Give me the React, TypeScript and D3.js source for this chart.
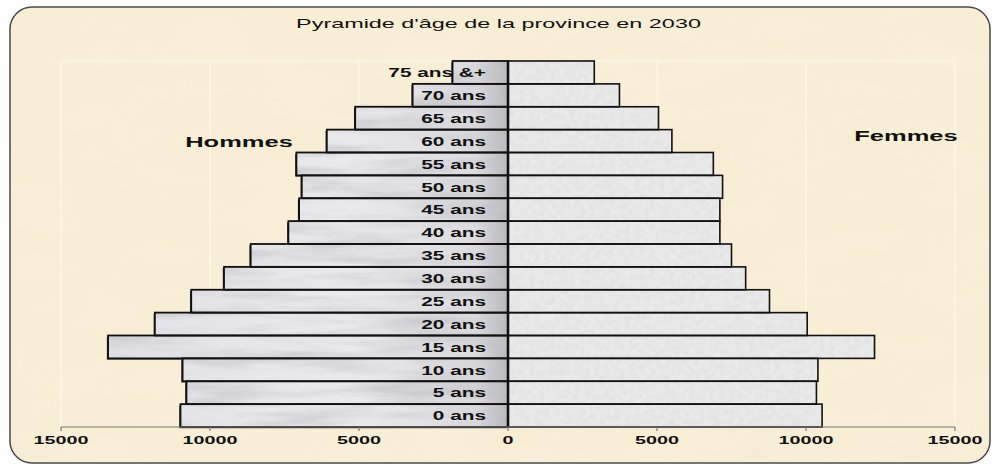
import React from "react";
import * as d3 from "d3";

const categories = ["0 ans", "5 ans", "10 ans", "15 ans", "20 ans", "25 ans", "30 ans", "35 ans", "40 ans", "45 ans", "50 ans", "55 ans", "60 ans", "65 ans", "70 ans", "75 ans &+"];
const hommes = [10990, 10790, 10920, 13420, 11850, 10630, 9530, 8635, 7370, 7010, 6920, 7100, 6080, 5128, 3200, 1860];
const femmes = [10540, 10350, 10400, 12300, 10040, 8775, 7975, 7500, 7110, 7110, 7200, 6890, 5500, 5050, 3740, 2895];
const tickValues = [-15000, -10000, -5000, 0, 5000, 10000, 15000];
const tickLabels = ["15000", "10000", "5000", "0", "5000", "10000", "15000"];
const title = "Pyramide d'âge de la province en 2030";
const leftLabel = "Hommes";
const rightLabel = "Femmes";

const W = 997;
const H = 468;
const FONT = "Arial, 'Liberation Sans', sans-serif";

function SText(props: { x: number; y: number; sx: number; anchor: string; size: number; weight?: string; children: React.ReactNode; fill?: string }) {
  return (
    <text
      transform={`translate(${props.x},${props.y}) scale(${props.sx},1)`}
      textAnchor={props.anchor as any}
      fontSize={props.size}
      fontWeight={props.weight || "bold"}
      fontFamily={FONT}
      fill={props.fill || "#111"}
    >
      {props.children}
    </text>
  );
}

export default function App() {
  const x = d3.scaleLinear().domain([-15000, 15000]).range([61, 955]);
  const y = d3.scaleBand<string>().domain([...categories].reverse()).range([61, 427]).padding(0);
  const bw = y.bandwidth();
  const x0 = x(0);

  return (
    <svg width={W} height={H} style={{ position: "absolute", left: 0, top: 0, display: "block" }}>
      <defs>
        <filter id="paper" x="0" y="0" width="100%" height="100%">
          <feTurbulence type="fractalNoise" baseFrequency="0.012 0.03" numOctaves="4" seed="3" result="n" />
          <feColorMatrix in="n" type="matrix" values="0 0 0 0 0.88  0 0 0 0 0.78  0 0 0 0 0.58  0 0 0 0.4 0" result="c" />
          <feComposite in="c" in2="SourceGraphic" operator="in" result="t" />
          <feMerge>
            <feMergeNode in="SourceGraphic" />
            <feMergeNode in="t" />
          </feMerge>
        </filter>
        <filter id="speck" x="0" y="0" width="100%" height="100%">
          <feTurbulence type="fractalNoise" baseFrequency="0.2" numOctaves="3" seed="7" result="n" />
          <feColorMatrix in="n" type="matrix" values="0 0 0 0 0.6  0 0 0 0 0.6  0 0 0 0 0.6  0 0 0 0.5 -0.08" result="c" />
          <feComposite in="c" in2="SourceGraphic" operator="in" result="t" />
          <feMerge>
            <feMergeNode in="SourceGraphic" />
            <feMergeNode in="t" />
          </feMerge>
        </filter>
        <filter id="marble" x="0" y="0" width="100%" height="100%">
          <feTurbulence type="fractalNoise" baseFrequency="0.008 0.06" numOctaves="4" seed="11" result="n" />
          <feColorMatrix in="n" type="matrix" values="0 0 0 0 0.55  0 0 0 0 0.55  0 0 0 0 0.58  0 0 0 1.8 -0.72" result="c" />
          <feComposite in="c" in2="SourceGraphic" operator="in" result="t" />
          <feMerge>
            <feMergeNode in="SourceGraphic" />
            <feMergeNode in="t" />
          </feMerge>
        </filter>
        <linearGradient id="menGrad" gradientUnits="userSpaceOnUse" x1={x(-13500)} y1="0" x2={x0} y2="0">
          <stop offset="0" stopColor="#e2e2e6" />
          <stop offset="0.6" stopColor="#eaeaed" />
          <stop offset="0.92" stopColor="#dcdce0" />
          <stop offset="1" stopColor="#b8b8bc" />
        </linearGradient>
      </defs>

      <rect x={10} y={7} width={980} height={456} rx={22} ry={22} fill="#faf0d9" filter="url(#paper)" />
      <rect x={10} y={7} width={980} height={456} rx={22} ry={22} fill="none" stroke="#4a4a4a" strokeWidth={1.5} />

      {/* gridlines */}
      <line x1={x(-15000)} x2={x(15000)} y1={61} y2={61} stroke="#ffffff" strokeOpacity={0.7} strokeWidth={1} />
      {tickValues.map((t, i) => (
        <line key={"g" + i} x1={x(t)} x2={x(t)} y1={61} y2={427} stroke="#ffffff" strokeOpacity={0.75} strokeWidth={1} />
      ))}

      {/* men bars shadow */}
      {categories.map((c, i) => (
        <rect key={"msh" + i} x={x(-hommes[i]) - 1.2} y={y(c)! + 1.2} width={x0 - x(-hommes[i])} height={bw} fill="#222" />
      ))}
      {categories.map((c, i) => (
        <rect key={"mf" + i} x={x(-hommes[i])} y={y(c)!} width={x0 - x(-hommes[i])} height={bw} fill="url(#menGrad)" filter="url(#marble)" />
      ))}
      {categories.map((c, i) => (
        <rect key={"ms" + i} x={x(-hommes[i])} y={y(c)!} width={x0 - x(-hommes[i])} height={bw} fill="none" stroke="#111" strokeWidth={1.8} />
      ))}

      {/* women bars */}
      {categories.map((c, i) => (
        <rect key={"ff" + i} x={x0} y={y(c)!} width={x(femmes[i]) - x0} height={bw} fill="#ececec" filter="url(#speck)" />
      ))}
      {categories.map((c, i) => (
        <rect key={"fs" + i} x={x0} y={y(c)!} width={x(femmes[i]) - x0} height={bw} fill="none" stroke="#111" strokeWidth={1.6} />
      ))}
      <line x1={x0} x2={x0} y1={61} y2={427} stroke="#111" strokeWidth={2.6} />

      {/* category labels */}
      {categories.map((c, i) => (
        <SText key={"l" + i} x={486} y={y(c)! + bw / 2 + 4.7} sx={1.6} anchor="end" size={13}>
          {c}
        </SText>
      ))}

      {/* axis */}
      <line x1={x(-15000)} x2={x(15000)} y1={427} y2={427} stroke="#7a7a7a" strokeWidth={1.2} />
      {tickValues.map((t, i) => (
        <g key={"t" + i}>
          <line x1={x(t)} x2={x(t)} y1={427} y2={431} stroke="#7a7a7a" strokeWidth={1.2} />
          <SText x={x(t)} y={444} sx={1.8} anchor="middle" size={11}>
            {tickLabels[i]}
          </SText>
        </g>
      ))}

      <SText x={498.5} y={28} sx={1.95} anchor="middle" size={12} weight="normal">
        {title}
      </SText>
      <SText x={239} y={146.5} sx={1.7} anchor="middle" size={15}>
        {leftLabel}
      </SText>
      <SText x={906} y={141} sx={1.7} anchor="middle" size={15}>
        {rightLabel}
      </SText>
    </svg>
  );
}
